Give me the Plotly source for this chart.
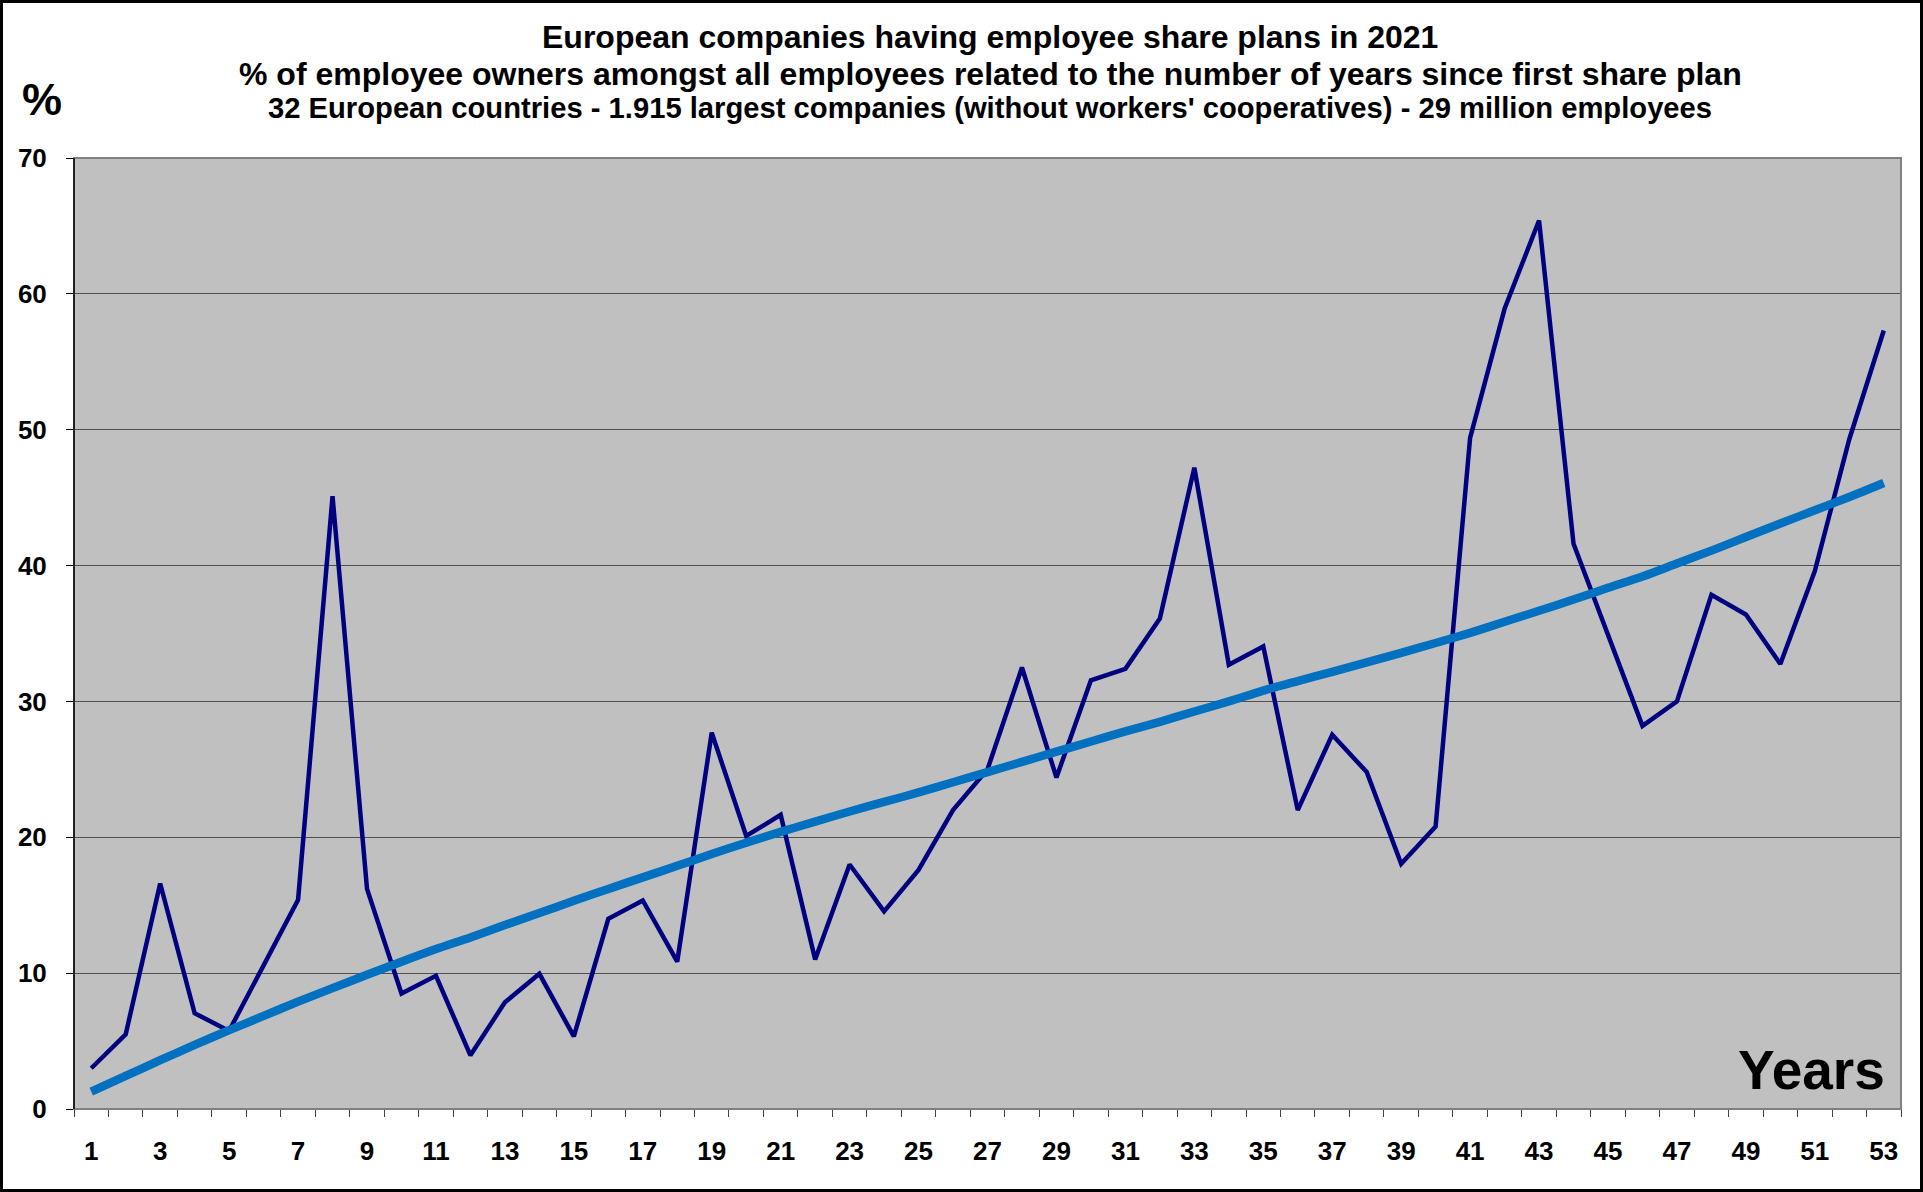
import plotly.graph_objects as go

years = list(range(1, 54))
pct_owners = [3.0, 5.5, 16.6, 7.05, 5.75, 10.5, 15.4, 45.1, 16.2, 8.5,
              9.8, 3.95, 7.85, 9.95, 5.35, 14.0, 15.35, 10.85, 27.7, 20.1,
              21.65, 11.0, 18.0, 14.55, 17.6, 22.0, 25.0, 32.5, 24.4, 31.55,
              32.4, 36.1, 47.2, 32.7, 34.05, 22.0, 27.55, 24.8, 18.05, 20.8,
              49.4, 58.9, 65.4, 41.6, 35.0, 28.2, 30.0, 37.85, 36.4, 32.75,
              39.6, 49.3, 57.3]
trend = [1.28, 2.43, 3.59, 4.72, 5.8, 6.85, 7.9, 8.9, 9.88, 10.84,
         11.77, 12.63, 13.54, 14.42, 15.33, 16.2, 17.05, 17.9, 18.77, 19.6,
         20.4, 21.15, 21.9, 22.6, 23.3, 24.05, 24.8, 25.55, 26.3, 27.05,
         27.8, 28.5, 29.26, 30.0, 30.8, 31.5, 32.18, 32.87, 33.58, 34.3,
         35.05, 35.86, 36.67, 37.5, 38.36, 39.2, 40.15, 41.1, 42.1, 43.1,
         44.07, 45.05, 46.08]
x_tickvals = [v for v in years if v % 2 == 1]
x_ticklabels = [str(v) for v in x_tickvals]
y_tickvals = [0, 10, 20, 30, 40, 50, 60, 70]
title_lines = [
    "European companies having employee share plans in 2021",
    "% of employee owners amongst all employees related to the number of years since first share plan",
    "32 European countries - 1.915 largest companies (without workers' cooperatives) - 29 million employees",
]

W, H = 1923, 1192
L, R, T, B = 74, 22, 158, 83
PW, PH = W - L - R, H - T - B
def px(xp): return (xp - L) / PW
def py(yp): return (H - B - yp) / PH

FONT = "Liberation Sans, Arial, sans-serif"

fig = go.Figure()
fig.add_trace(go.Scatter(x=years, y=pct_owners, mode="lines",
                         line=dict(color="#000080", width=4.5), showlegend=False,
                         hoverinfo="x+y"))
fig.add_trace(go.Scatter(x=years, y=trend, mode="lines",
                         line=dict(color="#0070C0", width=8.5, shape="spline", smoothing=0.8),
                         showlegend=False, hoverinfo="x+y"))

fig.update_layout(
    width=W, height=H,
    margin=dict(l=L, r=R, t=T, b=B, autoexpand=False),
    paper_bgcolor="white", plot_bgcolor="#C0C0C0",
    font=dict(family=FONT, color="black"),
    showlegend=False,
)
fig.update_xaxes(
    range=[0.5, 53.5], tickvals=x_tickvals, ticktext=x_ticklabels,
    ticks="", showgrid=False, zeroline=False,
    showline=True, linecolor="#404040", linewidth=1,
    tickfont=dict(family=FONT, size=26, weight="bold", color="black"),
    ticklabelstandoff=19,
    minor=dict(tickvals=[v + 0.5 for v in [0] + years], ticks="outside", ticklen=7,
               tickcolor="#404040", tickwidth=1, showgrid=False),
)
fig.update_yaxes(
    range=[0, 70], tickvals=y_tickvals, ticks="outside", ticklen=7, tickcolor="black",
    showgrid=True, gridcolor="#505050", gridwidth=1, zeroline=False,
    showline=True, linecolor="black", linewidth=1,
    tickfont=dict(family=FONT, size=26, weight="bold", color="black"),
    ticklabelstandoff=14,
)

shapes = [
    dict(type="rect", xref="paper", yref="paper", x0=0, x1=1, y0=0, y1=1,
         line=dict(color="#808080", width=2), layer="above"),
    dict(type="line", xref="paper", yref="paper", x0=0, x1=0, y0=0, y1=1,
         line=dict(color="black", width=1.5), layer="above"),
    dict(type="rect", xref="paper", yref="paper", x0=px(1.5), x1=px(W - 1.5),
         y0=py(H - 1.5), y1=py(1.5), line=dict(color="black", width=3)),
]
fig.update_layout(shapes=shapes)

annotations = []
for txt, yc, sz in zip(title_lines, [37, 74, 108], [32, 32, 29.2]):
    annotations.append(dict(text="<b>" + txt + "</b>", xref="paper", yref="paper",
                            x=px(990), y=py(yc), xanchor="center", yanchor="middle",
                            showarrow=False, font=dict(family=FONT, size=sz, color="black")))
annotations.append(dict(text="<b>%</b>", xref="paper", yref="paper", x=px(42), y=py(100),
                        xanchor="center", yanchor="middle", showarrow=False,
                        font=dict(family=FONT, size=45, color="black")))
annotations.append(dict(text="<b>Years</b>", xref="paper", yref="paper", x=px(1887), y=py(1070),
                        xanchor="right", yanchor="middle", showarrow=False,
                        font=dict(family=FONT, size=55, color="black")))
fig.update_layout(annotations=annotations)

fig.write_html("out.html", config={"displayModeBar": False},
               post_script="document.body.style.margin='0';document.body.style.padding='0';")
